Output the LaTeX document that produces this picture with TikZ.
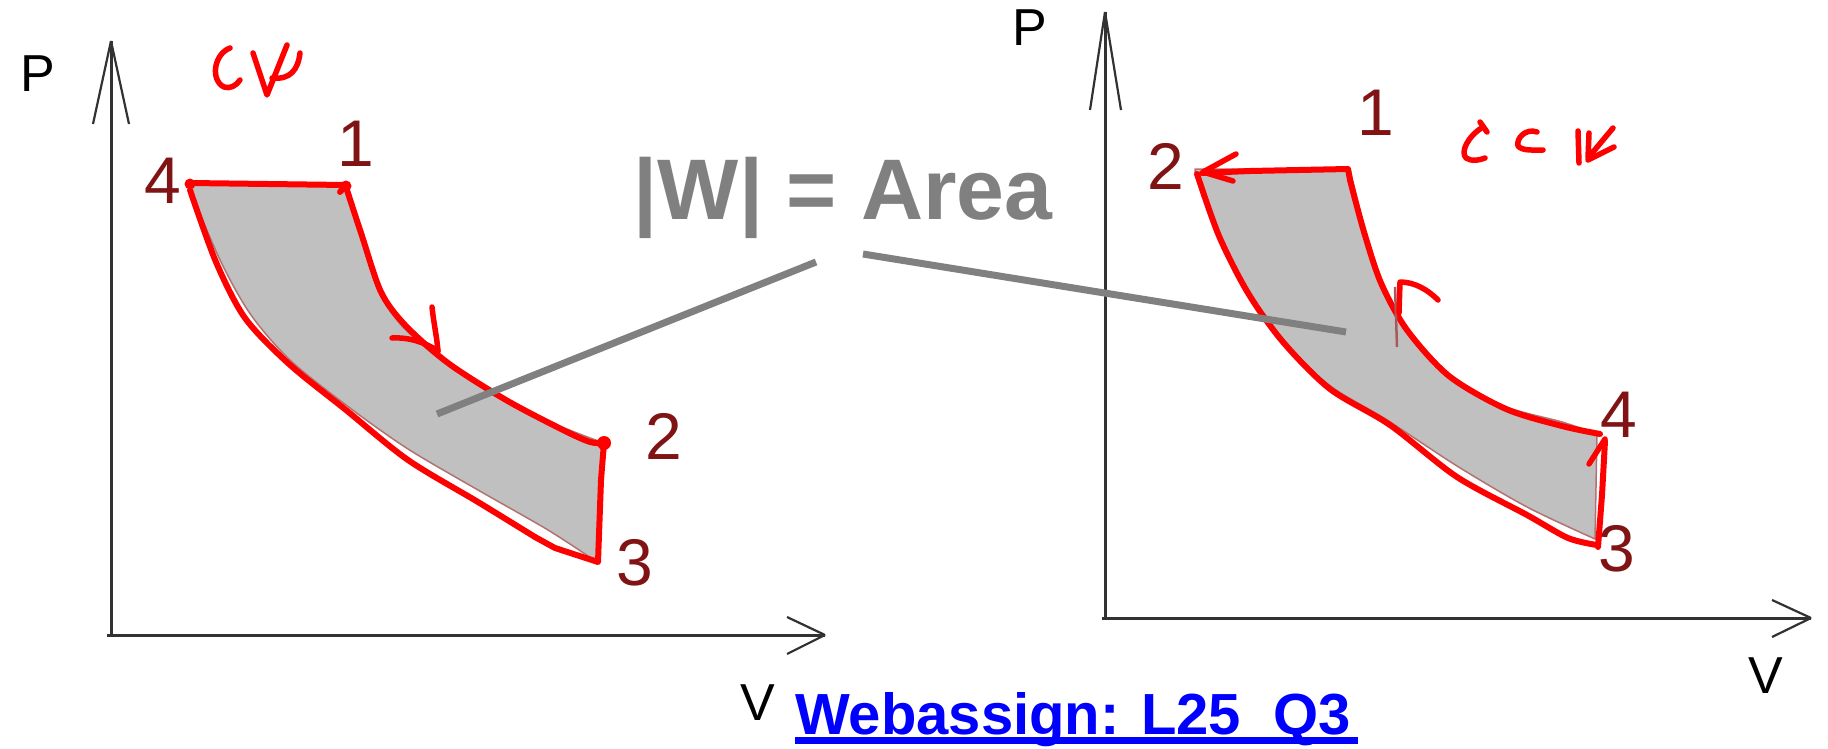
\documentclass[tikz,border=0pt]{standalone}
\usepackage{fontspec}
\setmainfont{Liberation Sans}
\definecolor{lbl}{RGB}{128,20,20}
\definecolor{ink}{RGB}{255,0,0}
\definecolor{areafill}{RGB}{192,192,192}
\definecolor{leader}{RGB}{128,128,128}
\definecolor{axis}{RGB}{50,50,50}
\definecolor{linkblue}{RGB}{0,0,255}
\begin{document}
\begin{tikzpicture}[x=1pt,y=-1pt,
  axisline/.style={draw=axis,line width=3pt},
  wing/.style={draw=axis,line width=2.2pt},
  region/.style={fill=areafill,draw=lbl!60,line width=1.5pt},
  redink/.style={draw=ink,line width=6pt,line cap=round,line join=round},
  numlbl/.style={text=lbl,font=\fontsize{66}{66}\selectfont,inner sep=0pt},
  axlbl/.style={text=black,font=\fontsize{52}{52}\selectfont,inner sep=0pt},
  leaderline/.style={draw=leader,line width=7pt},
]
\useasboundingbox (0,0) rectangle (1828,749);
\fill[white] (0,0) rectangle (1828,749);

% ---------- left diagram ----------
\coordinate (LO) at (111,635);
\coordinate (LYtop) at (111,41);
\coordinate (LXend) at (825,635);
\draw[axisline] (LO) -- (LYtop);
\draw[axisline] (107,635) -- (LXend);
\draw[wing] (LYtop) -- (93,124);
\draw[wing] (LYtop) -- (129,124);
\draw[wing] (LXend) -- (787,617);
\draw[wing] (LXend) -- (787,654);
\node[axlbl] (LP) at (38,74) {P};
\node[axlbl] (LV) at (758,703) {V};

\path[region] (190,184) -- plot[smooth] coordinates {(346,187) (361,233) (379,291) (402,326) (443,361) (501,396) (560,426) (604,443)}
  -- (597,562) -- plot[smooth] coordinates {(597,562) (548,530) (478,490) (408,449) (350,408) (291,361) (251,315) (221,262) (190,190)} -- cycle;

\node[numlbl] (L4) at (163,181) {4};
\node[numlbl] (L1) at (356,144) {1};
\node[numlbl] (L2) at (664,436) {2};
\node[numlbl] (L3) at (635,563) {3};

% red overlay left
\draw[redink] (190,183) -- (346,185) (346,185) -- (340,192);
\draw[redink] plot[smooth] coordinates {(346,187) (362,236) (381,292) (405,325) (448,363) (506,400) (563,430) (590,442) (604,443)};
\draw[redink] (604,443) -- (601,480) -- (598,562) -- (555,548) -- (535,537);
\draw[redink] plot[smooth] coordinates {(535,537) (478,502) (408,460) (346,410) (289,364) (245,318) (216,262) (190,190)};
\fill[ink] (190,184) circle (5.5);
\fill[ink] (346,186) circle (5.5);
\fill[ink] (604,443) circle (7);
% direction mark on 1-2
\draw[redink,line width=5.5pt] (392,338) .. controls (410,337) and (426,343) .. (438,351);
\draw[redink,line width=5.5pt] (432,307) .. controls (434,325) and (437,338) .. (438,351);
% "cw"
\draw[redink,line width=5.5pt] (230,48) .. controls (214,54) and (210,80) .. (224,87) .. controls (230,89) and (236,86) .. (240,80);
\draw[redink,line width=5.5pt] (253,53) -- (267,95) -- (287,45);
\draw[redink,line width=5.5pt] (272,78) .. controls (290,80) and (298,70) .. (300,53);

% ---------- right diagram ----------
\coordinate (RO) at (1105,618);
\coordinate (RYtop) at (1105,12);
\coordinate (RXend) at (1811,618);
\draw[axisline] (RO) -- (RYtop);
\draw[axisline] (1102,618) -- (RXend);
\draw[wing] (RYtop) -- (1090,110);
\draw[wing] (RYtop) -- (1121,110);
\draw[wing] (RXend) -- (1772,600);
\draw[wing] (RXend) -- (1772,637);
\node[axlbl] (RP) at (1030,28) {P};
\node[axlbl] (RV) at (1766,676) {V};

\path[region] (1195,169) -- (1350,169) -- plot[smooth] coordinates {(1350,169) (1364,227) (1381,280) (1405,326) (1446,373) (1504,406) (1562,422) (1597,434)}
  -- (1595,539) -- plot[smooth] coordinates {(1595,539) (1527,507) (1457,466) (1387,420) (1329,385) (1282,340) (1247,291) (1218,233) (1195,173)} -- cycle;

\node[numlbl] (R1) at (1376,113) {1};
\node[numlbl] (R2) at (1166,166) {2};
\node[numlbl] (R4) at (1619,415) {4};
\node[numlbl] (R3) at (1617,549) {3};

% red overlay right
\draw[redink] (1202,173) -- (1250,171) -- (1348,169) -- (1350,180);
\draw[redink] plot[smooth] coordinates {(1350,180) (1364,232) (1381,283) (1407,330) (1449,376) (1506,409) (1562,426) (1600,434)};
\draw[redink] (1598,547) -- (1602,495) -- (1605,441);
\draw[redink] plot[smooth] coordinates {(1597,545) (1568,538) (1527,515) (1457,477) (1390,425) (1330,389) (1283,342) (1248,293) (1219,236) (1197,174)};
% arrow heads
\draw[redink,line width=5.5pt] (1236,154) -- (1203,172) -- (1233,181);
\draw[redink,line width=5.5pt] (1589,464) -- (1605,439);
\draw[lbl!70,line width=2.5pt] (1395,287) -- (1397,347);
\draw[redink,line width=5.5pt] (1399,313) -- (1400,282) .. controls (1415,282) and (1428,290) .. (1438,300);
% "ccw"
\draw[redink,line width=5.5pt] (1480,122) -- (1487,132);
\draw[redink,line width=5.5pt] (1483,127) .. controls (1468,136) and (1460,152) .. (1466,158) .. controls (1472,162) and (1480,160) .. (1485,158);
\draw[redink,line width=5.5pt] (1537,132) .. controls (1526,128) and (1516,138) .. (1518,146) .. controls (1522,151) and (1534,150) .. (1543,150);
\draw[redink,line width=5.5pt] (1578,131) -- (1579,163);
\draw[redink,line width=5.5pt] (1589,133) -- (1588,158) -- (1613,128);
\draw[redink,line width=5.5pt] (1588,160) -- (1614,147);

% ---------- caption and leaders ----------
\node[text=leader,font=\fontsize{86}{86}\selectfont\bfseries,inner sep=0pt] (area) at (843,198) {|W| = Area};
\coordinate (LA) at (816,262);
\coordinate (LB) at (437,414);
\coordinate (RA) at (863,254);
\coordinate (RB) at (1346,332);
\draw[leaderline] (LA) -- (LB);
\draw[leaderline] (RA) -- (RB);

\node[text=linkblue,font=\fontsize{58}{58}\selectfont\bfseries,inner sep=0pt,anchor=base west] (link) at (795,734) {Webassign: L25\raisebox{-0.04em}{\_}Q3};
\fill[linkblue] (795,737) rectangle (1358,744);
\end{tikzpicture}
\end{document}
